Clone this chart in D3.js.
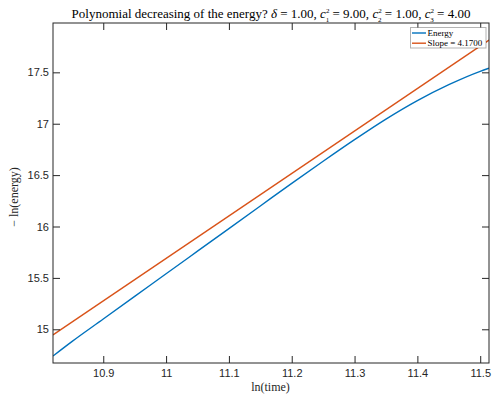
<!DOCTYPE html>
<html><head><meta charset="utf-8">
<script src="https://cdn.jsdelivr.net/npm/d3@7"></script>
<style>body{margin:0;background:#fff}</style>
</head><body>
<svg id="chart" width="495" height="401"></svg>
<script>
const xTicks = [10.9, 11, 11.1, 11.2, 11.3, 11.4, 11.5];
const yTicks = [15, 15.5, 16, 16.5, 17, 17.5];
const energyX = [10.82, 10.85, 10.9, 10.95, 11.0, 11.05, 11.1, 11.15, 11.2, 11.25, 11.3, 11.35, 11.4, 11.45, 11.5, 11.514];
const energyY = [14.74, 14.88, 15.10, 15.32, 15.54, 15.76, 15.98, 16.20, 16.42, 16.635, 16.845, 17.045, 17.225, 17.38, 17.51, 17.54];
const slopeX = [10.82, 11.514];
const slopeY = [14.945, 17.814];
const seriesNames = ["Energy", "Slope = 4.1700"];
const seriesColors = ["#0072BD", "#D95319"];

const svg = d3.select("#chart");
const L = 53, R = 489, T = 23, B = 363;
const x = d3.scaleLinear().domain([10.82, 11.514]).range([L, R]);
const y = d3.scaleLinear().domain([14.672, 17.98]).range([B, T]);
const axisColor = "#262626";
const tickFont = "Liberation Sans, Arial, sans-serif";
const serif = "Liberation Serif, Times New Roman, serif";

const g = svg.append("g");
const line = d3.line().x(d => x(d[0])).y(d => y(d[1])).curve(d3.curveMonotoneX);
svg.append("clipPath").attr("id","c").append("rect").attr("x",L).attr("y",T).attr("width",R-L).attr("height",B-T);
g.append("path").datum(energyX.map((v,i)=>[v,energyY[i]])).attr("d", line)
  .attr("fill","none").attr("stroke",seriesColors[0]).attr("stroke-width",1.4).attr("clip-path","url(#c)");
g.append("path").datum(slopeX.map((v,i)=>[v,slopeY[i]])).attr("d", line)
  .attr("fill","none").attr("stroke",seriesColors[1]).attr("stroke-width",1.4).attr("clip-path","url(#c)");

const tl = 7;
const xb = svg.append("g").attr("transform",`translate(0,${B})`)
  .call(d3.axisBottom(x).tickValues(xTicks).tickSize(-tl).tickPadding(6).tickFormat(d3.format("")));
const xt = svg.append("g").attr("transform",`translate(0,${T})`)
  .call(d3.axisTop(x).tickValues(xTicks).tickSize(-tl).tickFormat(""));
const yl = svg.append("g").attr("transform",`translate(${L},0)`)
  .call(d3.axisLeft(y).tickValues(yTicks).tickSize(-tl).tickPadding(4).tickFormat(d3.format("")));
const yr = svg.append("g").attr("transform",`translate(${R},0)`)
  .call(d3.axisRight(y).tickValues(yTicks).tickSize(-tl).tickFormat(""));
[xb,xt,yl,yr].forEach(a=>{
  a.select(".domain").remove();
  a.selectAll("line").attr("stroke",axisColor).attr("stroke-width",1);
  a.selectAll("text").attr("fill",axisColor).style("font-family",tickFont).style("font-size","11px");
});
svg.append("rect").attr("x",L).attr("y",T).attr("width",R-L).attr("height",B-T)
  .attr("fill","none").attr("stroke",axisColor).attr("stroke-width",1);

svg.append("text").attr("x",270.5).attr("y",391).attr("text-anchor","middle")
  .style("font-family",serif).style("font-size","12px").attr("fill",axisColor).text("ln(time)");
svg.append("text").attr("transform",`translate(18,197) rotate(-90)`).attr("text-anchor","middle")
  .style("font-family",serif).style("font-size","12px").attr("fill",axisColor).text("− ln(energy)");

const title = svg.append("text").attr("x",271).attr("y",18).attr("text-anchor","middle")
  .style("font-family",serif).style("font-size","13px").attr("fill","#000");
title.append("tspan").text("Polynomial decreasing of the energy? ");
title.append("tspan").style("font-style","italic").text("δ");
title.append("tspan").text(" = 1.00, ");
function cTerm(sub, val, last){
  title.append("tspan").style("font-style","italic").text("c");
  title.append("tspan").attr("dy",-5).style("font-size","7px").text("2");
  title.append("tspan").attr("dx",-3.6).attr("dy",8.5).style("font-size","7px").text(sub);
  title.append("tspan").attr("dy",-3.5).text(" = " + val + (last ? "" : ", "));
}
cTerm("1","9.00",false);
cTerm("2","1.00",false);
cTerm("3","4.00",true);

const lg = svg.append("g");
lg.append("rect").attr("x",410.5).attr("y",27.5).attr("width",75.5).attr("height",20.5)
  .attr("fill","#fff").attr("stroke","#262626").attr("stroke-opacity",0.35).attr("stroke-width",1);
seriesNames.forEach((n,i)=>{
  const yy = 33 + i*10.2;
  lg.append("line").attr("x1",412).attr("x2",426).attr("y1",yy).attr("y2",yy)
    .attr("stroke",seriesColors[i]).attr("stroke-width",1.4);
  lg.append("text").attr("x",427.5).attr("y",yy+3).style("font-family",serif).style("font-size","9px")
    .attr("fill","#000").text(n);
});
</script>
</body></html>
